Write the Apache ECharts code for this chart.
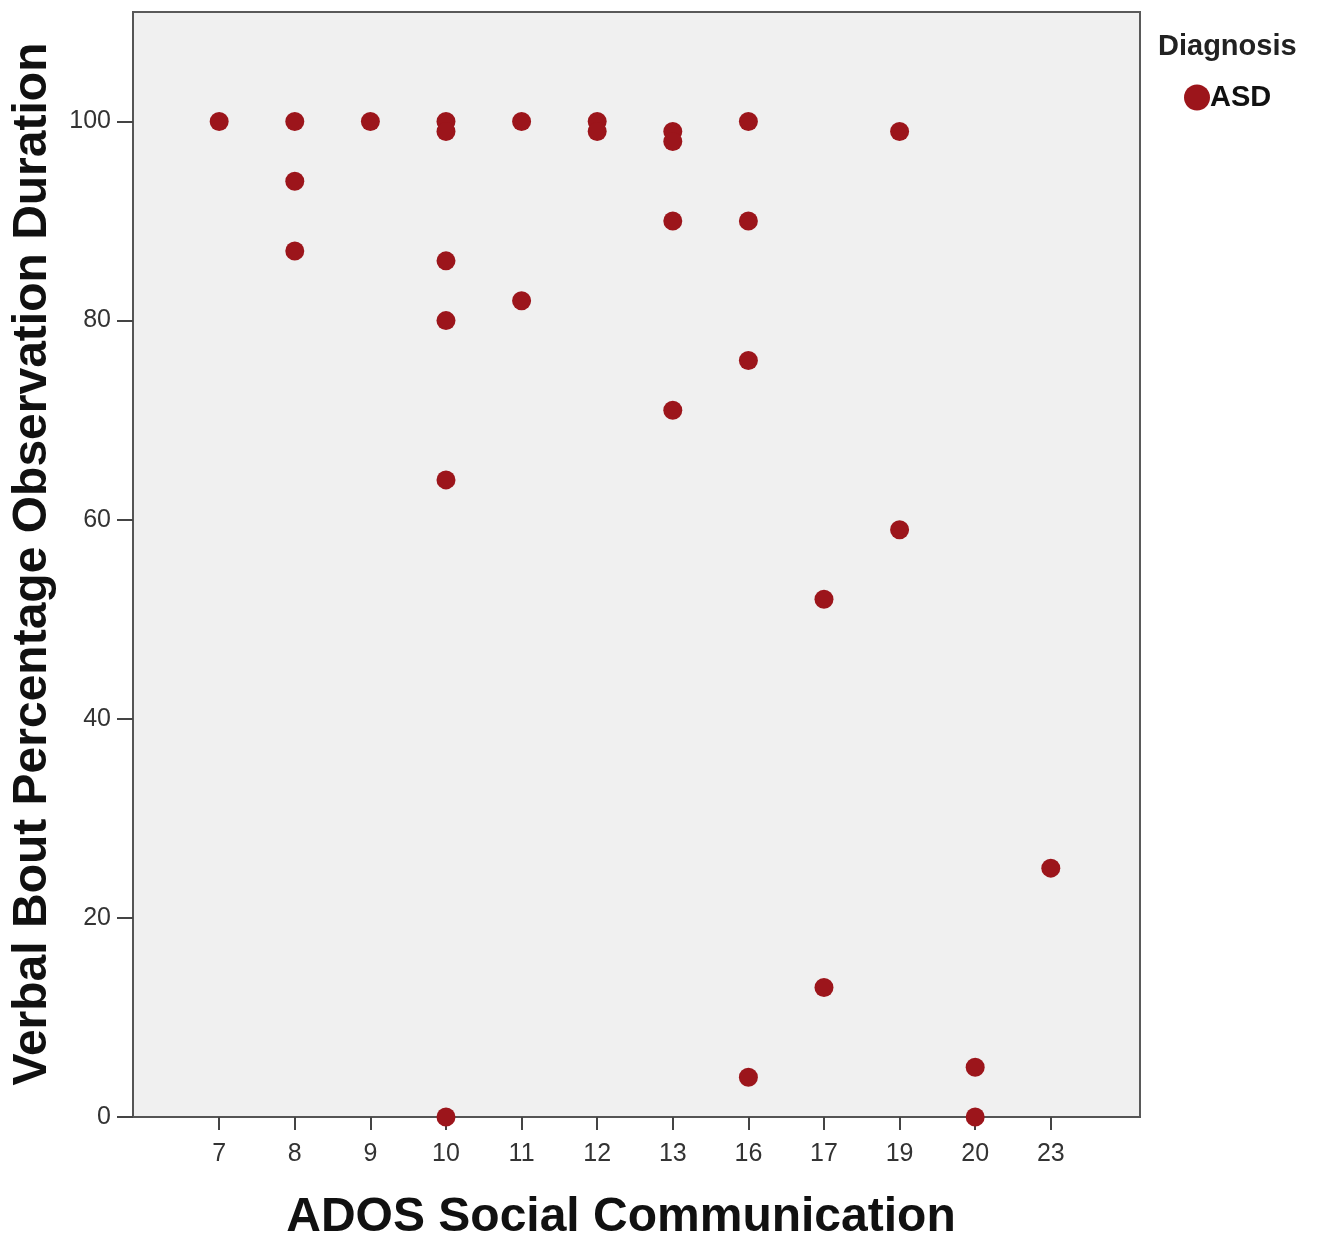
<!DOCTYPE html>
<html>
<head>
<meta charset="utf-8">
<script src="https://cdn.jsdelivr.net/npm/echarts@6/dist/echarts.min.js"></script>
<style>html,body{margin:0;padding:0;background:#fff;}#c{width:1324px;height:1243px;}</style>
</head>
<body>
<div id="c"></div>
<script>
// Category labels of the x axis (equally spaced categories)
const categories = ['7','8','9','10','11','12','13','16','17','19','20','23'];
// Points: [category label, value]
const asdPoints = [
  ['7',100],
  ['8',100],['8',94],['8',87],
  ['9',100],
  ['10',100],['10',99],['10',86],['10',80],['10',64],['10',0],
  ['11',100],['11',82],
  ['12',100],['12',99],
  ['13',99],['13',98],['13',90],['13',71],
  ['16',100],['16',90],['16',76],['16',4],
  ['17',52],['17',13],
  ['19',99],['19',59],
  ['20',5],['20',0],
  ['23',25]
];
const yTicks = [0,20,40,60,80,100];

const font = '"Liberation Sans", Arial, sans-serif';
const chart = echarts.init(document.getElementById('c'), null, {renderer:'canvas'});
const idxValues = categories.map((c,i)=>i);
chart.setOption({
  animation:false,
  backgroundColor:'#ffffff',
  title:{text:'Diagnosis', left:1153, top:27,
    textStyle:{fontFamily:font, fontSize:29, fontWeight:'bold', color:'#222'}},
  legend:{data:['ASD'], left:1179, top:78, icon:'circle', itemWidth:26, itemHeight:26, itemGap:0,
    textStyle:{fontFamily:font, fontSize:29, fontWeight:'bold', color:'#111', padding:[0,0,0,-5]}},
  grid:{left:133, right:184, top:12, bottom:126, show:true, backgroundColor:'#f0f0f0', borderColor:'#5a5a5a', borderWidth:2},
  xAxis:{type:'value', min:-1.14, max:12.18,
    splitLine:{show:false},
    axisLine:{show:true, onZero:false, lineStyle:{color:'#555', width:2}},
    axisTick:{show:true, customValues:idxValues, length:13, lineStyle:{color:'#444', width:2}},
    axisLabel:{customValues:idxValues, margin:25, fontFamily:font, fontSize:25, color:'#333',
      formatter:v=>categories[Math.round(v)]}},
  yAxis:{type:'value', min:0, max:111, interval:20,
    splitLine:{show:false},
    axisLine:{show:true, onZero:false, lineStyle:{color:'#555', width:2}},
    axisTick:{show:true, customValues:yTicks, length:16, lineStyle:{color:'#444', width:2}},
    axisLabel:{customValues:yTicks, margin:22, fontFamily:font, fontSize:25, color:'#333'}},
  graphic:[
    {type:'text', x:621, y:1218, style:{text:'ADOS Social Communication', x:0, y:0, align:'center', verticalAlign:'middle',
      fontFamily:font, fontSize:48, fontWeight:'bold', fill:'#111'}},
    {type:'text', x:33, y:564, rotation:Math.PI/2, style:{text:'Verbal Bout Percentage Observation Duration', x:0, y:0, align:'center', verticalAlign:'middle',
      fontFamily:font, fontSize:48, fontWeight:'bold', fill:'#111'}}
  ],
  series:[{name:'ASD', type:'scatter', symbol:'circle', symbolSize:19,
    itemStyle:{color:'#9c151b', opacity:1},
    data:asdPoints.map(p=>[categories.indexOf(p[0]), p[1]])}]
});
</script>
</body>
</html>
